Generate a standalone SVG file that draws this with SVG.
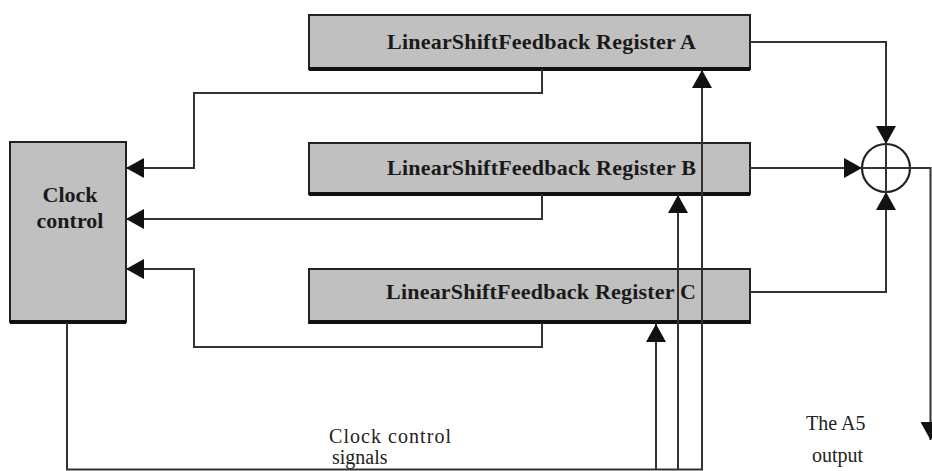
<svg xmlns="http://www.w3.org/2000/svg" width="932" height="471" viewBox="0 0 932 471">
  <style>
    .box { fill: #c0c0c0; stroke: #222; stroke-width: 2; }
    .shadow { stroke: #111; stroke-width: 4; }
    .wire { fill: none; stroke: #333; stroke-width: 2; }
    .reg { font-family: "Liberation Serif", "Times New Roman", serif; font-weight: bold; font-size: 22px; fill: #1a1a1a; }
    .lbl { font-family: "Liberation Serif", "Times New Roman", serif; font-size: 20px; fill: #222; }
  </style>
  <defs>
    <marker id="arrow" markerUnits="userSpaceOnUse" markerWidth="19" markerHeight="20" refX="18" refY="10" orient="auto">
      <path d="M0,0 L18,10 L0,20 Z" fill="#111"/>
    </marker>
  </defs>
  <rect width="932" height="471" fill="#fff"/>

  <!-- Registers and clock control -->
  <g id="clock-control">
    <rect class="box" x="10" y="142" width="116" height="180"/>
    <line class="shadow" x1="10" y1="322" x2="126" y2="322"/>
    <text class="reg" x="70" y="202" text-anchor="middle">Clock</text>
    <text class="reg" x="70" y="228" text-anchor="middle">control</text>
  </g>
  <g id="lfsr-a">
    <rect class="box" x="309" y="15" width="441" height="54"/>
    <line class="shadow" x1="309" y1="69" x2="750" y2="69"/>
    <text class="reg" x="387" y="49" textLength="309" lengthAdjust="spacing">LinearShiftFeedback Register A</text>
  </g>
  <g id="lfsr-b">
    <rect class="box" x="309" y="143" width="441" height="51"/>
    <line class="shadow" x1="309" y1="194" x2="750" y2="194"/>
    <text class="reg" x="387" y="175" textLength="309" lengthAdjust="spacing">LinearShiftFeedback Register B</text>
  </g>
  <g id="lfsr-c">
    <rect class="box" x="309" y="269" width="441" height="54"/>
    <line class="shadow" x1="309" y1="322" x2="750" y2="322"/>
    <text class="reg" x="386" y="299" textLength="310" lengthAdjust="spacing">LinearShiftFeedback Register C</text>
  </g>

  <!-- XOR combiner -->
  <g id="xor">
    <circle cx="886" cy="168" r="24" fill="none" stroke="#222" stroke-width="2.2"/>
    <line class="wire" x1="862" y1="168" x2="910" y2="168"/>
    <line class="wire" x1="886" y1="144" x2="886" y2="192"/>
  </g>

  <!-- Connectors -->
  <g id="connectors">
    <path class="wire" d="M542,69 V93 H194 V168 H126" marker-end="url(#arrow)"/>
    <path class="wire" d="M542,194 V219 H126" marker-end="url(#arrow)"/>
    <path class="wire" d="M542,323 V347 H194 V269 H126" marker-end="url(#arrow)"/>
    <path class="wire" d="M67,323 V469.5 H702 V70" marker-end="url(#arrow)"/>
    <path class="wire" d="M678,469.5 V195" marker-end="url(#arrow)"/>
    <path class="wire" d="M656,469.5 V324" marker-end="url(#arrow)"/>
    <path class="wire" d="M750,42 H886 V144" marker-end="url(#arrow)"/>
    <path class="wire" d="M750,168 H862" marker-end="url(#arrow)"/>
    <path class="wire" d="M750,292 H886 V192" marker-end="url(#arrow)"/>
    <path class="wire" d="M910,168 H930.5 V440" marker-end="url(#arrow)"/>
  </g>

  <!-- Labels -->
  <g id="labels">
    <text class="lbl" x="329" y="443" textLength="122" lengthAdjust="spacing">Clock control</text>
    <text class="lbl" x="332" y="464">signals</text>
    <text class="lbl" x="806" y="430" font-size="21">The A5</text>
    <text class="lbl" x="812" y="462" font-size="21">output</text>
  </g>
</svg>
